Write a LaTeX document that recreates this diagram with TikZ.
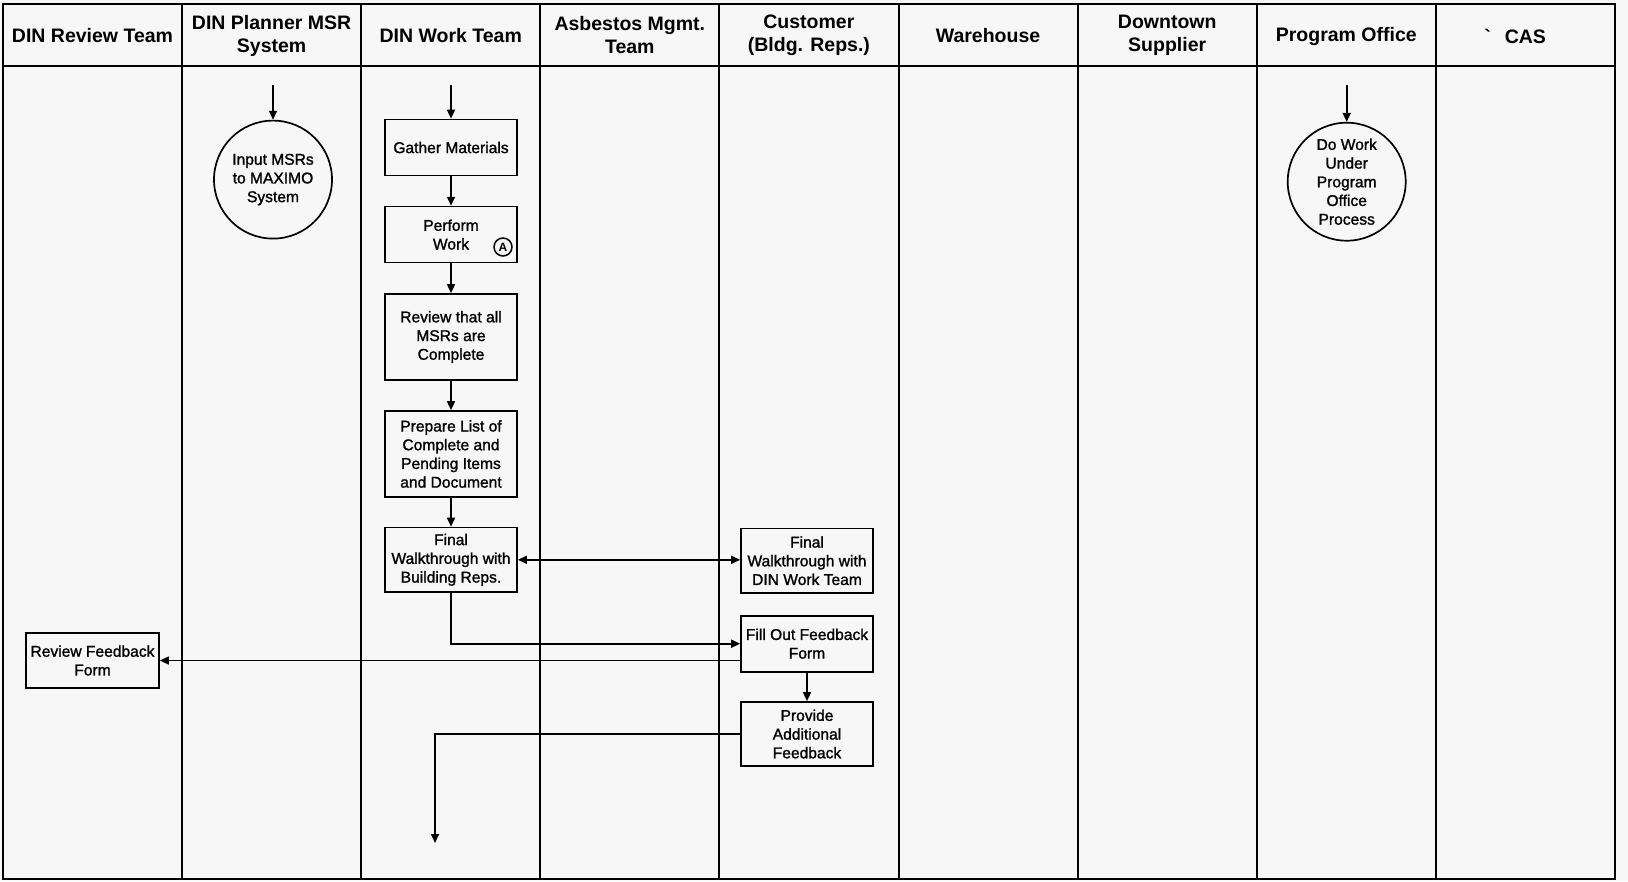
\documentclass[tikz,border=0pt]{standalone}
\usepackage{fontspec}
\setmainfont{Liberation Sans}
\newfontfamily\boxfont[FakeBold=1.3]{Liberation Sans}
\usetikzlibrary{arrows.meta}
\definecolor{bg}{HTML}{F7F7F7}
\begin{document}
\begin{tikzpicture}[x=1pt,y=-1pt,
  lane/.style={line width=2pt},
  hdr/.style={align=center, inner sep=0, font=\fontsize{19.5}{23}\selectfont\bfseries},
  box/.style={draw, line width=1.7pt, align=center, inner sep=0, fill=bg,
     font=\boxfont\fontsize{15.6}{18.7}\selectfont},
  circ/.style={draw, circle, line width=1.7pt, align=center, inner sep=0, minimum size=118pt,
     font=\boxfont\fontsize{15.6}{18.7}\selectfont},
  arr/.style={-{Triangle[length=9pt,width=8pt]}, line width=1.6pt},
  darr/.style={{Triangle[length=9pt,width=8pt]}-{Triangle[length=9pt,width=8pt]}, line width=1.6pt}]
\fill[bg] (0,0) rectangle (1628,881);
\useasboundingbox (0,0) rectangle (1628,881);
% lanes
\draw[lane] (3,4) rectangle (1615,879);
\draw[lane] (3,66) -- (1615,66);
\foreach \k in {1,...,8} {
  \draw[lane] ({3+\k*179.1},4) -- ({3+\k*179.1},879);
}
% headers
\node[hdr] (h1) at (92.5,36) {DIN Review Team};
\node[hdr] (h2) at (271.6,35.5) {DIN Planner MSR\\System};
\node[hdr] (h3) at (450.7,36) {DIN Work Team};
\node[hdr] (h4) at (629.8,35.5) {Asbestos Mgmt.\\Team};
\node[hdr] (h5) at (808.9,35.5) {Customer\\(Bldg. Reps.)};
\node[hdr] (h6) at (988,36) {Warehouse};
\node[hdr] (h7) at (1167.2,35.5) {Downtown\\Supplier};
\node[hdr] (h8) at (1346.3,36) {Program Office};
\node[hdr] (h9) at (1525.4,36) {\llap{\textasciigrave\hspace{14pt}}CAS};
% nodes
\node[circ] (c1) at (273,179.6) {Input MSRs\\to MAXIMO\\System};
\node[circ] (c2) at (1346.7,181.7) {Do Work\\Under\\Program\\Office\\Process};
\node[box, minimum width=132pt, minimum height=56pt] (gather) at (451,147.5) {Gather Materials};
\node[box, minimum width=132pt, minimum height=56pt] (perform) at (451,234.6) {Perform\\Work};
\node[draw, circle, line width=1.5pt, inner sep=0, minimum size=18pt,
  font=\fontsize{12}{12}\selectfont\bfseries] (pa) at (503,247) {A};
\node[box, minimum width=132pt, minimum height=86pt] (review) at (451,337) {Review that all\\MSRs are\\Complete};
\node[box, minimum width=132pt, minimum height=86pt] (prepare) at (451,454) {Prepare List of\\Complete and\\Pending Items\\and Document};
\node[box, minimum width=132pt, minimum height=64.5pt] (fw1) at (451,559.8) {Final\\Walkthrough with\\Building Reps.};
\node[box, minimum width=132pt, minimum height=64.5pt] (fw2) at (807,560.7) {Final\\Walkthrough with\\DIN Work Team};
\node[box, minimum width=132pt, minimum height=56pt] (fill) at (807,643.7) {Fill Out Feedback\\Form};
\node[box, minimum width=132pt, minimum height=64pt] (provide) at (807,734) {Provide\\Additional\\Feedback};
\node[box, minimum width=133pt, minimum height=55pt] (rff) at (92.5,660.5) {Review Feedback\\Form};
% free ends
\coordinate (s1) at (273,85);
\coordinate (s2) at (451,85);
\coordinate (s3) at (1346.7,85);
\coordinate (e1) at (435,843);
% connectors
\draw[arr] (s1) -- (c1.north);
\draw[arr] (s2) -- (gather.north);
\draw[arr] (s3) -- (c2.north);
\draw[arr] (gather) -- (perform);
\draw[arr] (perform) -- (review);
\draw[arr] (review) -- (prepare);
\draw[arr] (prepare) -- (fw1);
\draw[darr] (fw1.east) -- (fw1.east -| fw2.west);
\draw[arr] (fw1.south) |- (fill.west);
\draw[arr] (fill.west |- rff.east) -- (rff.east);
\draw[arr] (fill) -- (provide);
\draw[arr] (provide.west) -| (e1);
\end{tikzpicture}
\end{document}
